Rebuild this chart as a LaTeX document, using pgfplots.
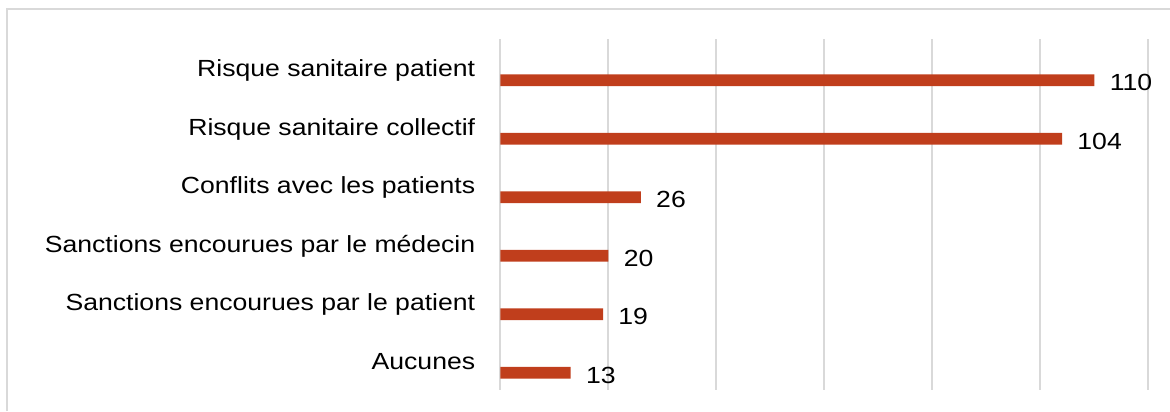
\documentclass[border=0pt]{standalone}
\usepackage{fontspec}
\setmainfont{Liberation Sans}[FakeStretch=1.14]
\usepackage{pgfplots}
\pgfplotsset{compat=1.18}
\definecolor{barc}{RGB}{192,62,28}
\definecolor{gridc}{RGB}{217,217,217}
\begin{document}
\begin{tikzpicture}
\begin{axis}[
  scale only axis, width=388.8pt, height=210.6pt,
  /pgf/number format/assume math mode=true,
  xbar, bar width=7pt, bar shift=-7.2pt,
  xmin=0, xmax=120, ymin=-0.5, ymax=5.5,
  xtick={0,20,...,120}, xticklabels={},
  ytick={0,...,5},
  yticklabels={Aucunes, Sanctions encourues par le patient, Sanctions encourues par le médecin, Conflits avec les patients, Risque sanitaire collectif, Risque sanitaire patient},
  axis line style={draw=none}, major tick length=0pt,
  xmajorgrids, grid style={gridc, line width=1.2pt},
  yticklabel style={font=\fontsize{14}{16}\selectfont, anchor=base east, inner sep=0pt, xshift=-15pt, yshift=-5pt, text=black},
  nodes near coords,
  nodes near coords style={font=\fontsize{14}{16}\selectfont, anchor=west, inner sep=0pt, xshift=9pt, yshift=-1.5pt, text=black},
  clip=false,
]
\addplot[fill=barc, draw=none] coordinates {(13,0) (19,1) (20,2) (26,3) (104,4) (110,5)};
\end{axis}
\draw[gridc, line width=1.2pt] (-296.1pt,-12.6pt) -- (-296.1pt,228.6pt) -- (401.7pt,228.6pt);
\pgfresetboundingbox
\path[use as bounding box] (-300.3pt,-12.6pt) rectangle (401.7pt,234pt);
\end{tikzpicture}
\end{document}
